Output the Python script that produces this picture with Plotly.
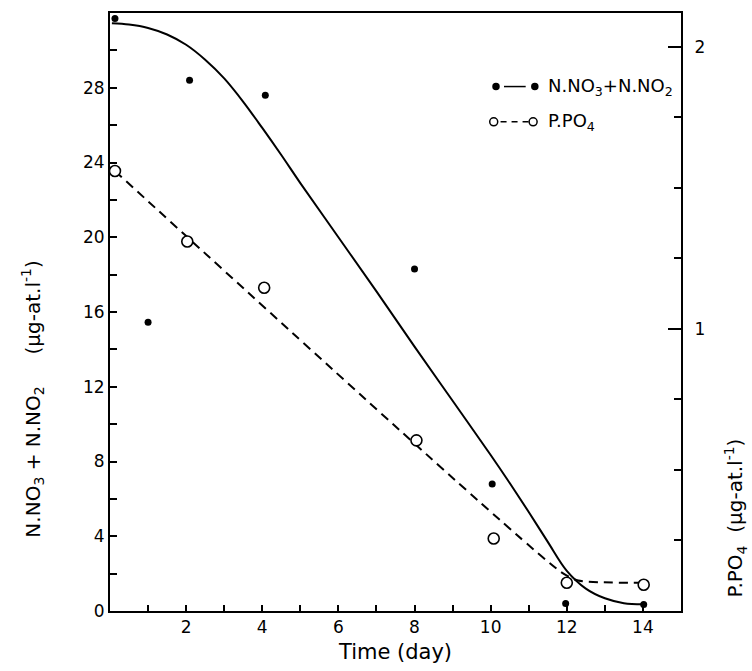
import plotly.graph_objects as go

# N.NO3 + N.NO2 observations (left axis, µg-at/l)
n_days = [0.13, 1.0, 2.09, 4.08, 8.0, 10.04, 11.97, 14.02]
n_vals = [31.7, 15.45, 28.4, 27.6, 18.3, 6.8, 0.4, 0.35]

# P.PO4 observations (right axis, µg-at/l)
p_days = [0.13, 2.03, 4.05, 8.05, 10.08, 12.0, 14.02]
p_vals = [1.56, 1.31, 1.146, 0.605, 0.257, 0.10, 0.093]

# fitted curve for N (solid)
n_fit_days = [0.05, 0.5, 1.0, 1.5, 2.0, 2.5, 3.0, 3.5, 4.0, 4.5, 5.0, 6.0, 7.0, 8.0,
              9.0, 10.0, 10.5, 11.0, 11.5, 12.0, 12.5, 13.0, 13.5, 14.0]
n_fit_vals = [31.45, 31.38, 31.2, 30.85, 30.3, 29.5, 28.5, 27.25, 25.85, 24.4, 22.9,
              20.0, 17.1, 14.15, 11.25, 8.35, 6.85, 5.3, 3.7, 2.15, 1.2, 0.68, 0.42, 0.36]

# fitted line for P (dashed)
p_fit_days = [0.13, 11.85, 12.3, 13.95]
p_fit_vals = [1.56, 0.138, 0.108, 0.1]

x_ticks = list(range(1, 15))
x_labels = [str(d) if d % 2 == 0 else "" for d in x_ticks]
y_ticks = list(range(0, 31, 2))
y_labels = [str(v) if v % 4 == 0 and v <= 28 else "" for v in y_ticks]
y2_ticks = [1, 2]
y2_labels = ["1", "2"]

FONT = "DejaVu Sans"

fig = go.Figure()
fig.add_trace(go.Scatter(x=n_fit_days, y=n_fit_vals, mode="lines",
                         line=dict(color="black", width=2, shape="spline", smoothing=1.0),
                         yaxis="y", showlegend=False))
fig.add_trace(go.Scatter(x=p_fit_days, y=p_fit_vals, mode="lines",
                         line=dict(color="black", width=2, dash="9px,6px", shape="spline", smoothing=0.6),
                         yaxis="y2", showlegend=False))
fig.add_trace(go.Scatter(x=n_days, y=n_vals, mode="markers",
                         marker=dict(color="black", size=7, symbol="circle"),
                         yaxis="y", showlegend=False))
fig.add_trace(go.Scatter(x=p_days, y=p_vals, mode="markers",
                         marker=dict(color="white", size=11, symbol="circle",
                                     line=dict(color="black", width=1.6)),
                         yaxis="y2", showlegend=False))

axis_common = dict(showgrid=False, zeroline=False, showline=True, linecolor="black",
                   linewidth=2, ticks="inside", tickcolor="black", tickwidth=1.5,
                   tickfont=dict(family=FONT, size=17, color="black"))

fig.update_layout(
    width=752, height=671,
    margin=dict(l=110, r=71, t=11, b=57),
    paper_bgcolor="white", plot_bgcolor="white",
    font=dict(family=FONT, color="black"),
    xaxis=dict(range=[0, 15], tickmode="array", tickvals=x_ticks, ticktext=x_labels,
               ticklen=6, mirror=True,
               title=dict(text="Time (day)", font=dict(family=FONT, size=21, color="black"),
                          standoff=8),
               **axis_common),
    yaxis=dict(range=[0, 32], tickmode="array", tickvals=y_ticks, ticktext=y_labels,
               ticklen=7, **axis_common),
    yaxis2=dict(range=[0, 2.12], overlaying="y", side="right", tickmode="array",
                tickvals=y2_ticks, ticktext=y2_labels, ticklen=13, ticklabelstandoff=8,
                minor=dict(tickmode="linear", tick0=0, dtick=0.25, ticks="inside",
                           ticklen=7, tickcolor="black", tickwidth=1.5),
                **axis_common),
)

# axis titles
fig.add_annotation(xref="paper", yref="paper", x=-0.135, y=0.355, textangle=-90,
                   text="N.NO<sub>3</sub> + N.NO<sub>2</sub>     (µg-at.l<sup>-1</sup>)",
                   showarrow=False, xanchor="center", yanchor="middle",
                   font=dict(family=FONT, size=20, color="black"))
fig.add_annotation(xref="paper", yref="paper", x=1.095, y=0.155, textangle=-90,
                   text="P.PO<sub>4</sub>  (µg-at.l<sup>-1</sup>)",
                   showarrow=False, xanchor="center", yanchor="middle",
                   font=dict(family=FONT, size=20, color="black"))

# hand-drawn style legend
def dot(xp, yp, r, filled):
    fig.add_shape(type="circle", xref="paper", yref="paper", xsizemode="pixel",
                  ysizemode="pixel", xanchor=xp, yanchor=yp, x0=-r, x1=r, y0=-r, y1=r,
                  line=dict(color="black", width=1.5),
                  fillcolor="black" if filled else "white")

r1, r2 = 0.877, 0.818
fig.add_shape(type="line", xref="paper", yref="paper", x0=0.690, x1=0.728, y0=r1, y1=r1,
              line=dict(color="black", width=1.5))
dot(0.676, r1, 3, True)
dot(0.744, r1, 3, True)
fig.add_shape(type="line", xref="paper", yref="paper", x0=0.684, x1=0.735, y0=r2, y1=r2,
              line=dict(color="black", width=1.5, dash="6px,5px"))
dot(0.672, r2, 4, False)
dot(0.741, r2, 4, False)
fig.add_annotation(xref="paper", yref="paper", x=0.763, y=r1, xanchor="left",
                   yanchor="middle", showarrow=False,
                   text="N.NO<sub>3</sub>+N.NO<sub>2</sub>",
                   font=dict(family=FONT, size=18, color="black"))
fig.add_annotation(xref="paper", yref="paper", x=0.763, y=r2, xanchor="left",
                   yanchor="middle", showarrow=False, text="P.PO<sub>4</sub>",
                   font=dict(family=FONT, size=18, color="black"))

fig.write_html("out.html")
